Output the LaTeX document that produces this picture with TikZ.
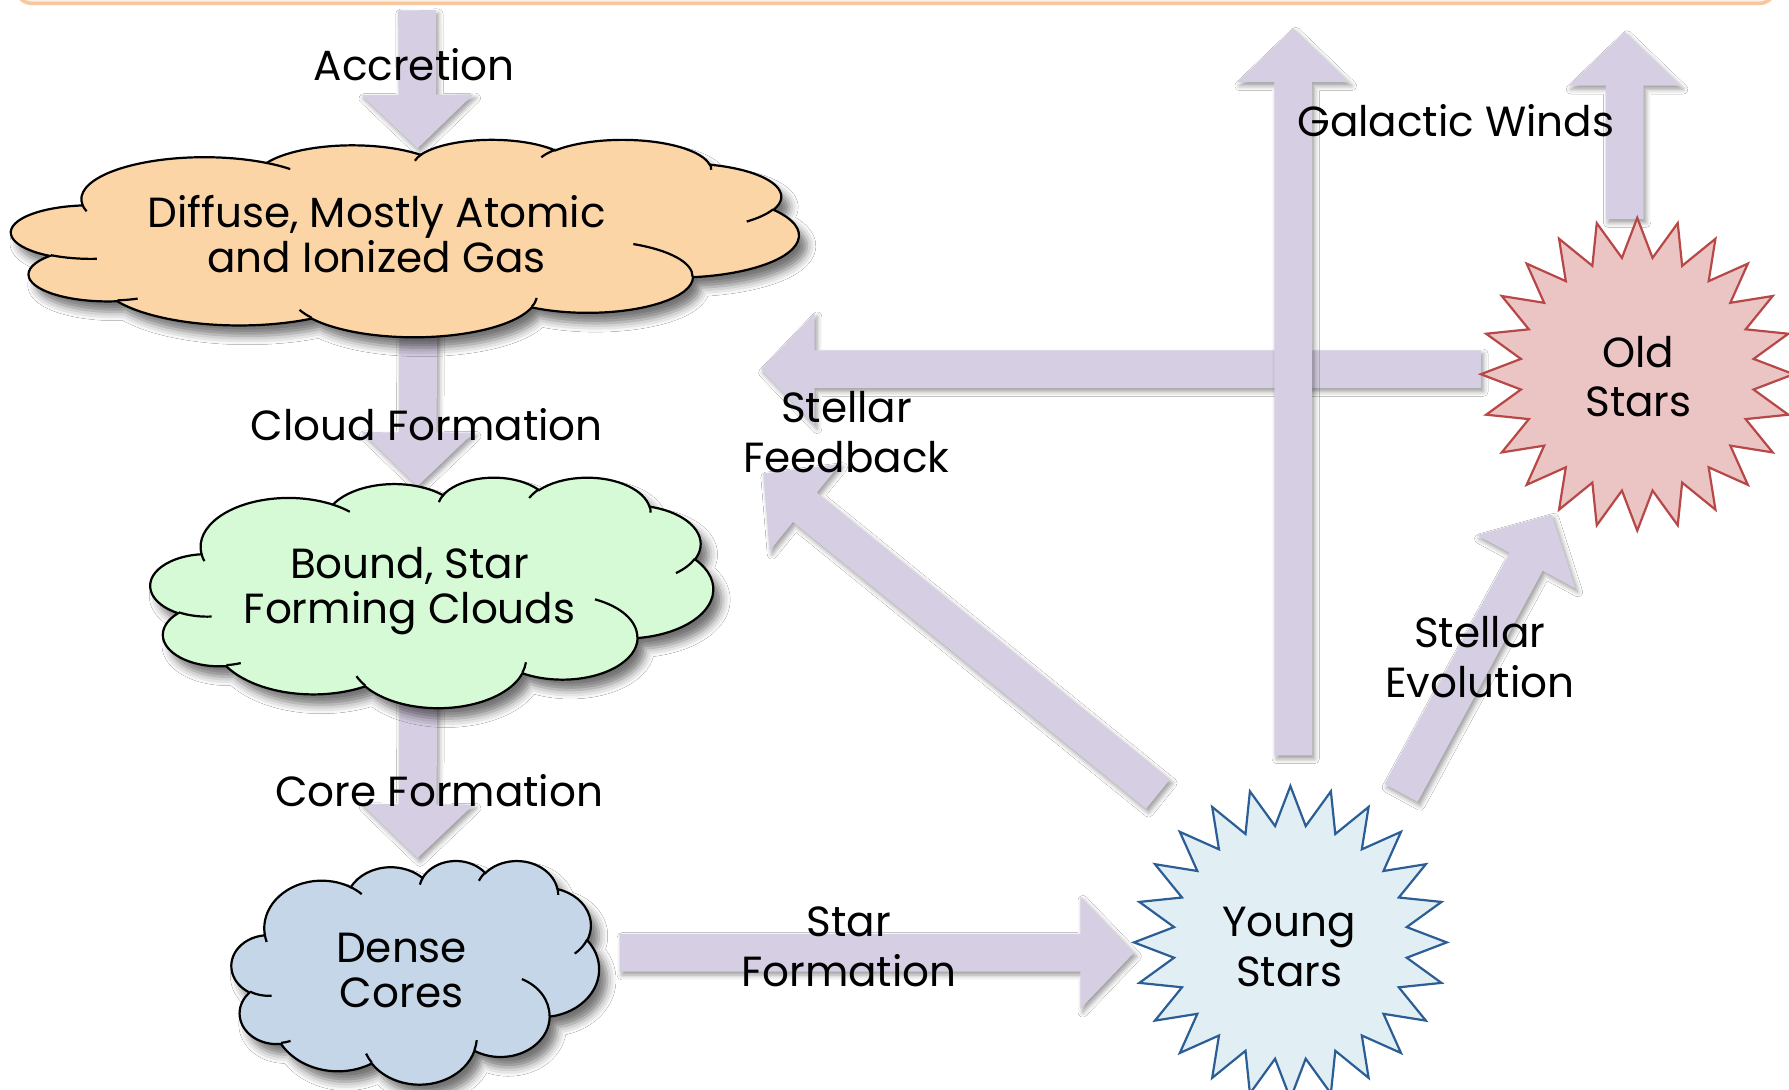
\documentclass[tikz,border=0pt]{standalone}
\usepackage{fontspec}
\setmainfont{Poppins}
\usetikzlibrary{calc,shapes.geometric,shadows.blur}

\definecolor{flow}{RGB}{214,206,226}
\definecolor{gasfill}{RGB}{252,213,167}
\definecolor{boundfill}{RGB}{213,250,213}
\definecolor{corefill}{RGB}{196,214,232}
\definecolor{youngfill}{RGB}{225,239,245}
\definecolor{youngline}{RGB}{44,94,150}
\definecolor{oldfill}{RGB}{235,196,196}
\definecolor{oldline}{RGB}{184,72,72}
\definecolor{framefill}{RGB}{254,240,228}
\definecolor{frameline}{RGB}{247,200,160}

\tikzset{
  label text/.style={font=\fontsize{10.5}{12.5}\selectfont, align=center, inner sep=0pt},
  cloud text/.style={font=\fontsize{10.5}{11.2}\selectfont, align=center, inner sep=0pt},
  star text/.style={font=\fontsize{10.5}{12.3}\selectfont, align=center, inner sep=0pt},
  star node/.style={star, star points=24, star point ratio=1.3333, minimum size=2.74cm,
    inner sep=0pt, line width=0.55pt},
  flow shadow/.style={blur shadow={shadow xshift=0.6pt, shadow yshift=-0.9pt,
    shadow blur radius=1.2pt, shadow opacity=40}},
  cloud shadow/.style={blur shadow={shadow xshift=2pt, shadow yshift=-2.6pt,
    shadow blur radius=2.2pt, shadow opacity=55}},
  cloud line/.style={line width=0.55pt, draw=black},
}

% wide block arrow from tail #1 to tip #2
\newcommand\blockarrow[2]{%
  \coordinate (ah) at ($(#2)!0.47cm!(#1)$);
  \fill[flow, flow shadow]
    ($(#1)!0.165cm!90:(#2)$) --
    ($(ah)!0.165cm!-90:(#1)$) --
    ($(ah)!0.49cm!-90:(#1)$) --
    (#2) --
    ($(ah)!0.49cm!90:(#1)$) --
    ($(ah)!0.165cm!90:(#1)$) --
    ($(#1)!0.165cm!-90:(#2)$) -- cycle;
}

% cloud outline in a 43.2 x 43.2 box: left, top, width, height, fill
\newcommand\cloudshape[5]{%
  \begin{scope}[shift={(#1,#2)}, x={#3/43.2*0.01cm}, y={-#4/43.2*0.01cm}]
    \filldraw[cloud line, fill=#5, cloud shadow]
      (3.900,14.370)
      \foreach \rw/\rh/\ca/\cs in {6.753/9.190/-190.4875/123.7805,
          5.333/7.267/-144.1024/89.9452, 4.365/5.945/-145.8079/99.7230,
          4.857/6.595/-130.9861/117.2417, 5.333/7.273/-78.7089/109.0269,
          6.775/9.220/-46.2673/130.2690, 5.785/7.867/0.6250/114.0333,
          6.752/9.215/22.4516/115.1726, 7.720/10.543/66.2426/75.7110,
          4.360/5.918/-274.9421/146.7356, 4.345/5.945/-246.8285/152.5189}
      { arc[x radius=\rw, y radius=\rh,
            start angle={atan2(sin(\ca)*\rw/\rh,cos(\ca))},
            delta angle={mod(atan2(sin(\ca+\cs)*\rw/\rh,cos(\ca+\cs))-atan2(sin(\ca)*\rw/\rh,cos(\ca))+720,360)}] }
      -- cycle;
    \draw[cloud line]
      \foreach \px/\py/\rw/\rh/\ca/\cs in {4.693/26.177/4.345/5.945/86.7420/26.4295,
          6.928/34.899/4.360/5.918/73.6105/11.4475,
          16.478/39.090/6.752/9.215/137.6242/14.0811,
          28.827/34.751/6.752/9.215/6.4533/15.9984,
          34.129/22.954/5.785/7.867/-70.2924/70.9174,
          41.798/15.354/5.333/7.273/30.3180/27.7515,
          38.324/5.426/4.857/6.595/-13.7443/14.8589,
          29.078/3.952/4.857/6.595/-149.1815/18.1954,
          22.141/4.720/4.365/5.945/-163.4943/17.6864,
          14.000/5.192/6.753/9.190/-66.7070/12.3194,
          4.127/15.789/6.753/9.190/157.6544/11.8582}
      { (\px,\py) arc[x radius=\rw, y radius=\rh,
            start angle={atan2(sin(\ca)*\rw/\rh,cos(\ca))},
            delta angle={mod(atan2(sin(\ca+\cs)*\rw/\rh,cos(\ca+\cs))-atan2(sin(\ca)*\rw/\rh,cos(\ca))+720,360)}] };
  \end{scope}
}

\begin{document}
\begin{tikzpicture}[x=0.01cm, y=-0.01cm]
\useasboundingbox (0,0) rectangle (1568,955);
\fill[white] (0,0) rectangle (1568,955);

% frame of the box above
\draw[frameline, fill=framefill, line width=0.9pt, rounded corners=4pt]
  (14,-40) rectangle (1556,3);

% arrow end points
\coordinate (accTop) at (365.5,9);
\coordinate (accTip) at (366,130);
\coordinate (cfTop) at (366.5,292);
\coordinate (cfTip) at (366,426);
\coordinate (coreTop) at (366.5,612);
\coordinate (coreTip) at (366,752);
\coordinate (sfTail) at (543,835);
\coordinate (sfTip) at (994,835);
\coordinate (gwTailA) at (1133.5,662);
\coordinate (gwTipA) at (1133.5,25);
\coordinate (gwTailB) at (1424,192);
\coordinate (gwTipB) at (1424,28);
\coordinate (fbTail) at (1298,323.5);
\coordinate (fbTip) at (667,323.5);
\coordinate (fdTail) at (1015,696);
\coordinate (fdTip) at (669,415);
\coordinate (evTail) at (1228,695);
\coordinate (evTip) at (1360,451);

% flows
\blockarrow{fbTail}{fbTip}
\blockarrow{gwTailA}{gwTipA}
\blockarrow{gwTailB}{gwTipB}
\blockarrow{fdTail}{fdTip}
\blockarrow{evTail}{evTip}
\blockarrow{sfTail}{sfTip}
\blockarrow{accTop}{accTip}
\blockarrow{cfTop}{cfTip}
\blockarrow{coreTop}{coreTip}

% gas phases
\cloudshape{10}{122}{690}{173}{gasfill}
\cloudshape{132}{418}{493}{202}{boundfill}
\cloudshape{203}{754}{322}{196}{corefill}

\node[cloud text] (diffuse) at (330,205) {Diffuse, Mostly Atomic\\and Ionized Gas};
\node[cloud text] (bound) at (359,518) {Bound, Star\\Forming Clouds};
\node[cloud text] (dense) at (352,851) {Dense\\Cores};

% stellar populations
\node[star node, fill=youngfill, draw=youngline] (young) at (1131,826) {};
\node[star text] (youngText) at (1130,830) {Young\\Stars};
\node[star node, fill=oldfill, draw=oldline] (old) at (1435,328) {};
\node[star text] (oldText) at (1436,330) {Old\\Stars};

% process labels
\node[label text] (accLabel) at (363,57) {Accretion};
\node[label text] (cfLabel) at (374,372) {Cloud Formation};
\node[label text] (coreLabel) at (385,693) {Core Formation};
\node[label text] (sfLabel) at (744,830) {Star\\Formation};
\node[label text] (fbLabel) at (742,379) {Stellar\\Feedback};
\node[label text] (gwLabel) at (1276,106) {Galactic Winds};
\node[label text] (evLabel) at (1297,576) {Stellar\\Evolution};
\end{tikzpicture}
\end{document}
